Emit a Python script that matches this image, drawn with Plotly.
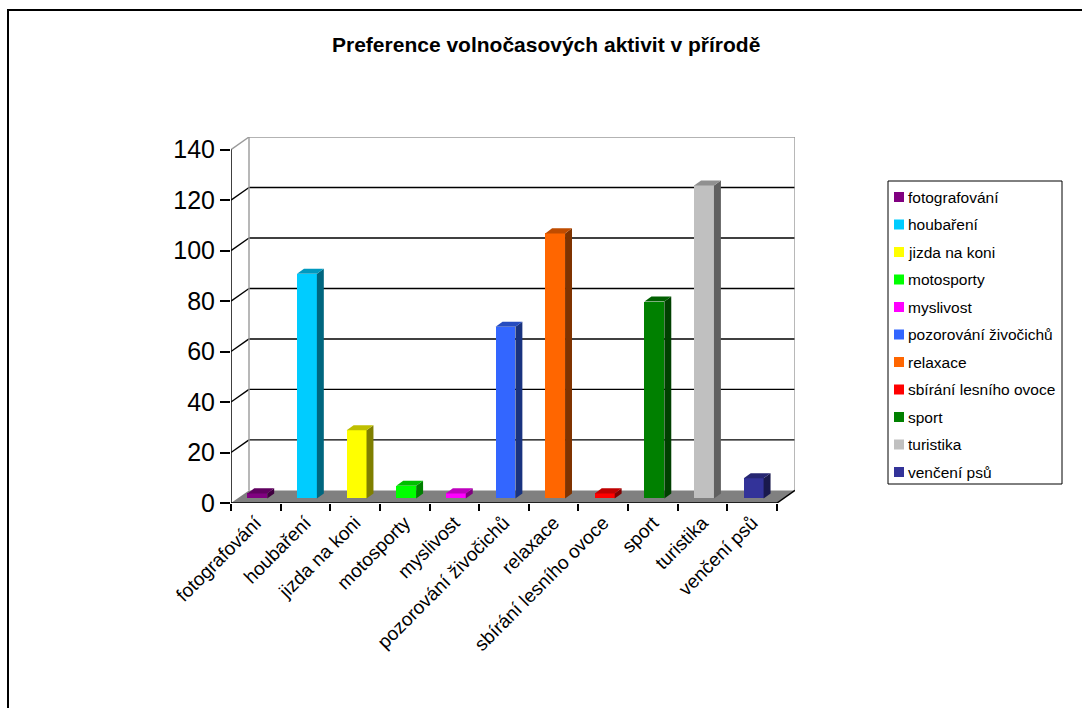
import plotly.graph_objects as go

# Activity categories and counts
categories = ["fotografování", "houbaření", "jizda na koni", "motosporty", "myslivost",
              "pozorování živočichů", "relaxace", "sbírání lesního ovoce", "sport",
              "turistika", "venčení psů"]
values = [2, 89, 27, 5, 2, 68, 105, 2, 78, 124, 8]
colors = ["#800080", "#00CCFF", "#FFFF00", "#00FF00", "#FF00FF", "#3366FF",
          "#FF6600", "#FF0000", "#008000", "#C0C0C0", "#333399"]
y_ticks = [0, 20, 40, 60, 80, 100, 120, 140]

W, H = 1082, 708
L, R, T, B = 231, 287, 137, 205
n = len(categories)
DDX, DDY = 0.3626, 5.0          # depth of the floor / walls in data units
YMAX = 140
Y_RANGE = [0, 145]

BAR_OFF, BAR_W = 0.33, 0.40      # front face position within a category slot
BASE = 1.8                       # front face bottom (bar sits mid-depth)
SDX, SDY = 0.14, 2.0             # bar depth (side/top faces)
FONT = "Liberation Sans, Arial"


def shade(hexcol, f):
    h = hexcol.lstrip("#")
    r, g, b = (int(h[i:i + 2], 16) for i in (0, 2, 4))
    return "rgb(%d,%d,%d)" % (r * f, g * f, b * f)


def px_x(p):
    return (p - L) / (W - L - R)


def px_y(p):
    return (H - B - p) / (H - T - B)


fig = go.Figure()

# front faces of the columns
for i, (c, v, col) in enumerate(zip(categories, values, colors)):
    fig.add_trace(go.Bar(x=[i + BAR_OFF + BAR_W / 2], y=[v], base=[BASE], width=[BAR_W],
                         marker=dict(color=col, line=dict(width=0)), name=c,
                         showlegend=False, hoverinfo="skip"))

# side and top faces
for i, (v, col) in enumerate(zip(values, colors)):
    x0 = i + BAR_OFF
    x1 = x0 + BAR_W
    top = BASE + v
    fig.add_trace(go.Scatter(
        x=[x1, x1 + SDX, x1 + SDX, x1, x1], y=[BASE, BASE + SDY, top + SDY, top, BASE],
        fill="toself", fillcolor=shade(col, 0.5), mode="lines", line=dict(width=0),
        showlegend=False, hoverinfo="skip"))
    fig.add_trace(go.Scatter(
        x=[x0, x1, x1 + SDX, x0 + SDX, x0], y=[top, top, top + SDY, top + SDY, top],
        fill="toself", fillcolor=shade(col, 0.75), mode="lines", line=dict(width=0),
        showlegend=False, hoverinfo="skip"))

shapes = []
# floor
shapes.append(dict(type="path", layer="below",
                   path=f"M0,0 L{n},0 L{n + DDX},{DDY} L{DDX},{DDY} Z",
                   fillcolor="#808080", line=dict(width=0)))
# gridlines: back wall horizontals and left wall diagonals
for t in y_ticks[1:-1]:
    shapes.append(dict(type="line", layer="below", x0=DDX, y0=t + DDY, x1=n + DDX, y1=t + DDY,
                       line=dict(color="black", width=1.4)))
    shapes.append(dict(type="line", layer="below", x0=0, y0=t, x1=DDX, y1=t + DDY,
                       line=dict(color="black", width=1.4)))
# wall edges
wall = "#9a9a9a"
shapes.append(dict(type="line", layer="below", x0=DDX, y0=DDY, x1=DDX, y1=YMAX + DDY,
                   line=dict(color=wall, width=1.4)))
shapes.append(dict(type="line", layer="below", x0=DDX, y0=YMAX + DDY, x1=n + DDX, y1=YMAX + DDY,
                   line=dict(color=wall, width=1.4)))
shapes.append(dict(type="line", layer="below", x0=n + DDX, y0=DDY, x1=n + DDX, y1=YMAX + DDY,
                   line=dict(color=wall, width=1.4)))
shapes.append(dict(type="line", layer="below", x0=0, y0=YMAX, x1=DDX, y1=YMAX + DDY,
                   line=dict(color=wall, width=1.4)))
# axis lines
shapes.append(dict(type="line", x0=0, y0=0, x1=0, y1=YMAX, line=dict(color="black", width=1.5)))
shapes.append(dict(type="line", x0=0, y0=0, x1=n, y1=0, line=dict(color="black", width=1.5)))
shapes.append(dict(type="line", x0=n, y0=0, x1=n + DDX, y1=DDY, line=dict(color="black", width=1.5)))

# outer chart border
shapes.append(dict(type="rect", xref="paper", yref="paper",
                   x0=px_x(8), y0=px_y(10), x1=px_x(1090), y1=px_y(720),
                   line=dict(color="black", width=2), fillcolor="rgba(0,0,0,0)"))

# legend
annotations = []
LX0, LY0, LX1, LY1 = 888, 181, 1062, 484
shapes.append(dict(type="rect", xref="paper", yref="paper",
                   x0=px_x(LX0), y0=px_y(LY0), x1=px_x(LX1), y1=px_y(LY1),
                   line=dict(color="black", width=1), fillcolor="white"))
for k, (c, col) in enumerate(zip(categories, colors)):
    cy = 197 + 27.5 * k
    shapes.append(dict(type="rect", xref="paper", yref="paper",
                       x0=px_x(894), x1=px_x(904), y0=px_y(cy - 5), y1=px_y(cy + 5),
                       fillcolor=col, line=dict(width=0)))
    annotations.append(dict(xref="paper", yref="paper", x=px_x(906), y=px_y(cy),
                            text=c, showarrow=False, xanchor="left", yanchor="middle",
                            font=dict(family=FONT, size=15.5, color="black")))

# title
annotations.append(dict(xref="paper", yref="paper", x=px_x(546), y=px_y(44),
                        text="<b>Preference volnočasových aktivit v přírodě</b>",
                        showarrow=False, xanchor="center", yanchor="middle",
                        font=dict(family=FONT, size=21, color="black")))

fig.update_layout(
    width=W, height=H,
    margin=dict(l=L, r=R, t=T, b=B, pad=0),
    paper_bgcolor="white", plot_bgcolor="white",
    shapes=shapes, annotations=annotations,
    showlegend=False, bargap=0,
    xaxis=dict(range=[0, n + DDX], showgrid=False, zeroline=False, showline=False,
               tickmode="array", tickvals=[i + 0.5 for i in range(n)], ticktext=categories,
               ticks="", tickangle=-45, ticklabelstandoff=4,
               tickfont=dict(family=FONT, size=19, color="black"),
               minor=dict(tickmode="array", tickvals=list(range(n + 1)), ticks="outside",
                          ticklen=7, tickwidth=1.5, tickcolor="black", showgrid=False)),
    yaxis=dict(range=Y_RANGE, showgrid=False, zeroline=False, showline=False,
               tickmode="array", tickvals=y_ticks, ticks="outside", ticklen=10,
               tickwidth=1.5, tickcolor="black",
               tickfont=dict(family=FONT, size=25, color="black")),
)

fig.write_html("out.html")
